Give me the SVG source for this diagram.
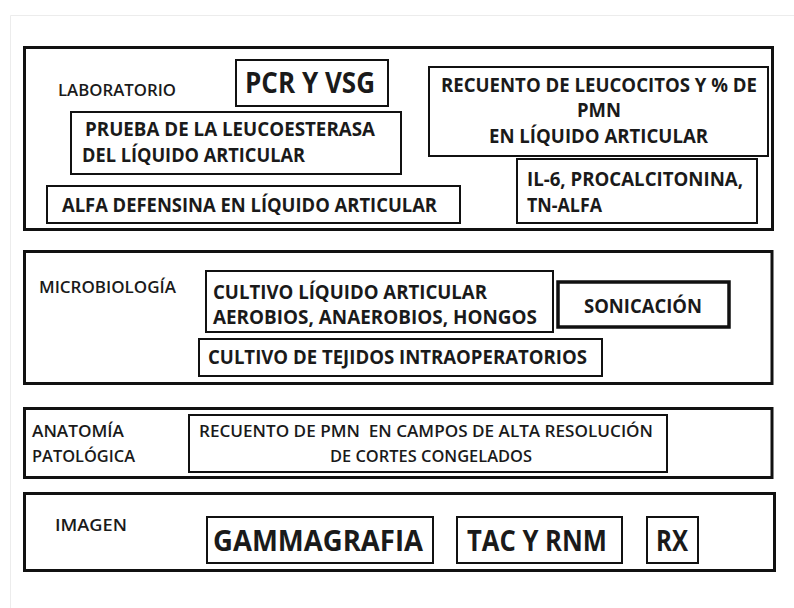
<svg xmlns="http://www.w3.org/2000/svg" width="794" height="608" viewBox="0 0 794 608">
<style>
  .page { fill: #ffffff; }
  .edge { stroke: #ececec; stroke-width: 1; fill: none; }
  .section { fill: #ffffff; stroke: #111111; stroke-width: 3; }
  .box { fill: #ffffff; stroke: #111111; stroke-width: 2; }
  .thick { stroke-width: 3.5; }
  text { font-family: "Open Sans", "Liberation Sans", sans-serif; fill: #1a1a1a; white-space: pre; }
  .label { font-size: 16.5px; font-weight: 600; }
  .t { font-size: 19px; font-weight: 700; }
  .reg { font-size: 17px; font-weight: 600; }
  .big { font-size: 29px; font-weight: 700; }
</style>
<rect class="page" x="0" y="0" width="794" height="608"/>
<path class="edge" d="M10.5 608 V15.5 H794"/>

<g id="laboratorio">
  <rect class="section" x="24.5" y="47.5" width="748" height="182"/>
  <text class="label" x="58" y="96" textLength="118" lengthAdjust="spacingAndGlyphs">LABORATORIO</text>
</g>
<g id="pcr-vsg">
  <rect class="box" x="236" y="60" width="152" height="46"/>
  <text class="big" x="245" y="93" textLength="130" lengthAdjust="spacingAndGlyphs">PCR Y VSG</text>
</g>
<g id="leucoesterasa">
  <rect class="box" x="71" y="112" width="330" height="62"/>
  <text class="t" x="85" y="136" textLength="290" lengthAdjust="spacingAndGlyphs">PRUEBA DE LA LEUCOESTERASA</text>
  <text class="t" x="82" y="162" textLength="223" lengthAdjust="spacingAndGlyphs">DEL LÍQUIDO ARTICULAR</text>
</g>
<g id="alfa-defensina">
  <rect class="box" x="47" y="186" width="413" height="37"/>
  <text class="t" x="62" y="212" textLength="375" lengthAdjust="spacingAndGlyphs">ALFA DEFENSINA EN LÍQUIDO ARTICULAR</text>
</g>
<g id="recuento-leucocitos">
  <rect class="box" x="429" y="67" width="339" height="89"/>
  <text class="t" x="441" y="92" textLength="316" lengthAdjust="spacingAndGlyphs">RECUENTO DE LEUCOCITOS Y % DE</text>
  <text class="t" x="577" y="117" textLength="44" lengthAdjust="spacingAndGlyphs">PMN</text>
  <text class="t" x="489" y="143" textLength="219" lengthAdjust="spacingAndGlyphs">EN LÍQUIDO ARTICULAR</text>
</g>
<g id="il6">
  <rect class="box" x="517" y="159" width="240" height="64"/>
  <text class="t" x="527" y="186" textLength="216" lengthAdjust="spacingAndGlyphs">IL-6, PROCALCITONINA,</text>
  <text class="t" x="527" y="212" textLength="75" lengthAdjust="spacingAndGlyphs">TN-ALFA</text>
</g>

<g id="microbiologia">
  <rect class="section" x="24.5" y="251.5" width="747.5" height="132"/>
  <text class="label" x="39" y="293" textLength="137" lengthAdjust="spacingAndGlyphs">MICROBIOLOGÍA</text>
</g>
<g id="cultivo-liquido">
  <rect class="box" x="206" y="271" width="347" height="61"/>
  <text class="t" x="213" y="299" textLength="274" lengthAdjust="spacingAndGlyphs">CULTIVO LÍQUIDO ARTICULAR</text>
  <text class="t" x="213" y="324" textLength="324" lengthAdjust="spacingAndGlyphs">AEROBIOS, ANAEROBIOS, HONGOS</text>
</g>
<g id="sonicacion">
  <rect class="box thick" x="558" y="282" width="171" height="45"/>
  <text class="t" x="584" y="313" textLength="118" lengthAdjust="spacingAndGlyphs">SONICACIÓN</text>
</g>
<g id="cultivo-tejidos">
  <rect class="box" x="199" y="339" width="403" height="37"/>
  <text class="t" x="208" y="364" textLength="379" lengthAdjust="spacingAndGlyphs">CULTIVO DE TEJIDOS INTRAOPERATORIOS</text>
</g>

<g id="anatomia">
  <rect class="section" x="24.5" y="408.5" width="747.5" height="69"/>
  <text class="label" x="32" y="437" textLength="92" lengthAdjust="spacingAndGlyphs">ANATOMÍA</text>
  <text class="label" x="32" y="462" textLength="103" lengthAdjust="spacingAndGlyphs">PATOLÓGICA</text>
</g>
<g id="recuento-pmn">
  <rect class="box" x="189" y="415" width="478" height="57"/>
  <text class="reg" x="199" y="437" textLength="454" lengthAdjust="spacingAndGlyphs">RECUENTO DE PMN  EN CAMPOS DE ALTA RESOLUCIÓN</text>
  <text class="reg" x="330" y="462" textLength="202" lengthAdjust="spacingAndGlyphs">DE CORTES CONGELADOS</text>
</g>

<g id="imagen">
  <rect class="section" x="24.5" y="493.5" width="750" height="77"/>
  <text class="label" x="55" y="531" textLength="72" lengthAdjust="spacingAndGlyphs">IMAGEN</text>
</g>
<g id="gammagrafia">
  <rect class="box" x="207" y="517" width="226" height="46"/>
  <text class="big" x="213" y="551" textLength="210" lengthAdjust="spacingAndGlyphs">GAMMAGRAFIA</text>
</g>
<g id="tac-rnm">
  <rect class="box" x="457" y="517" width="165" height="46"/>
  <text class="big" x="467" y="551" textLength="140" lengthAdjust="spacingAndGlyphs">TAC Y RNM</text>
</g>
<g id="rx">
  <rect class="box" x="647" y="517" width="51" height="46"/>
  <text class="big" x="656" y="551" textLength="32" lengthAdjust="spacingAndGlyphs">RX</text>
</g>

<g id="connectors"></g>
</svg>
